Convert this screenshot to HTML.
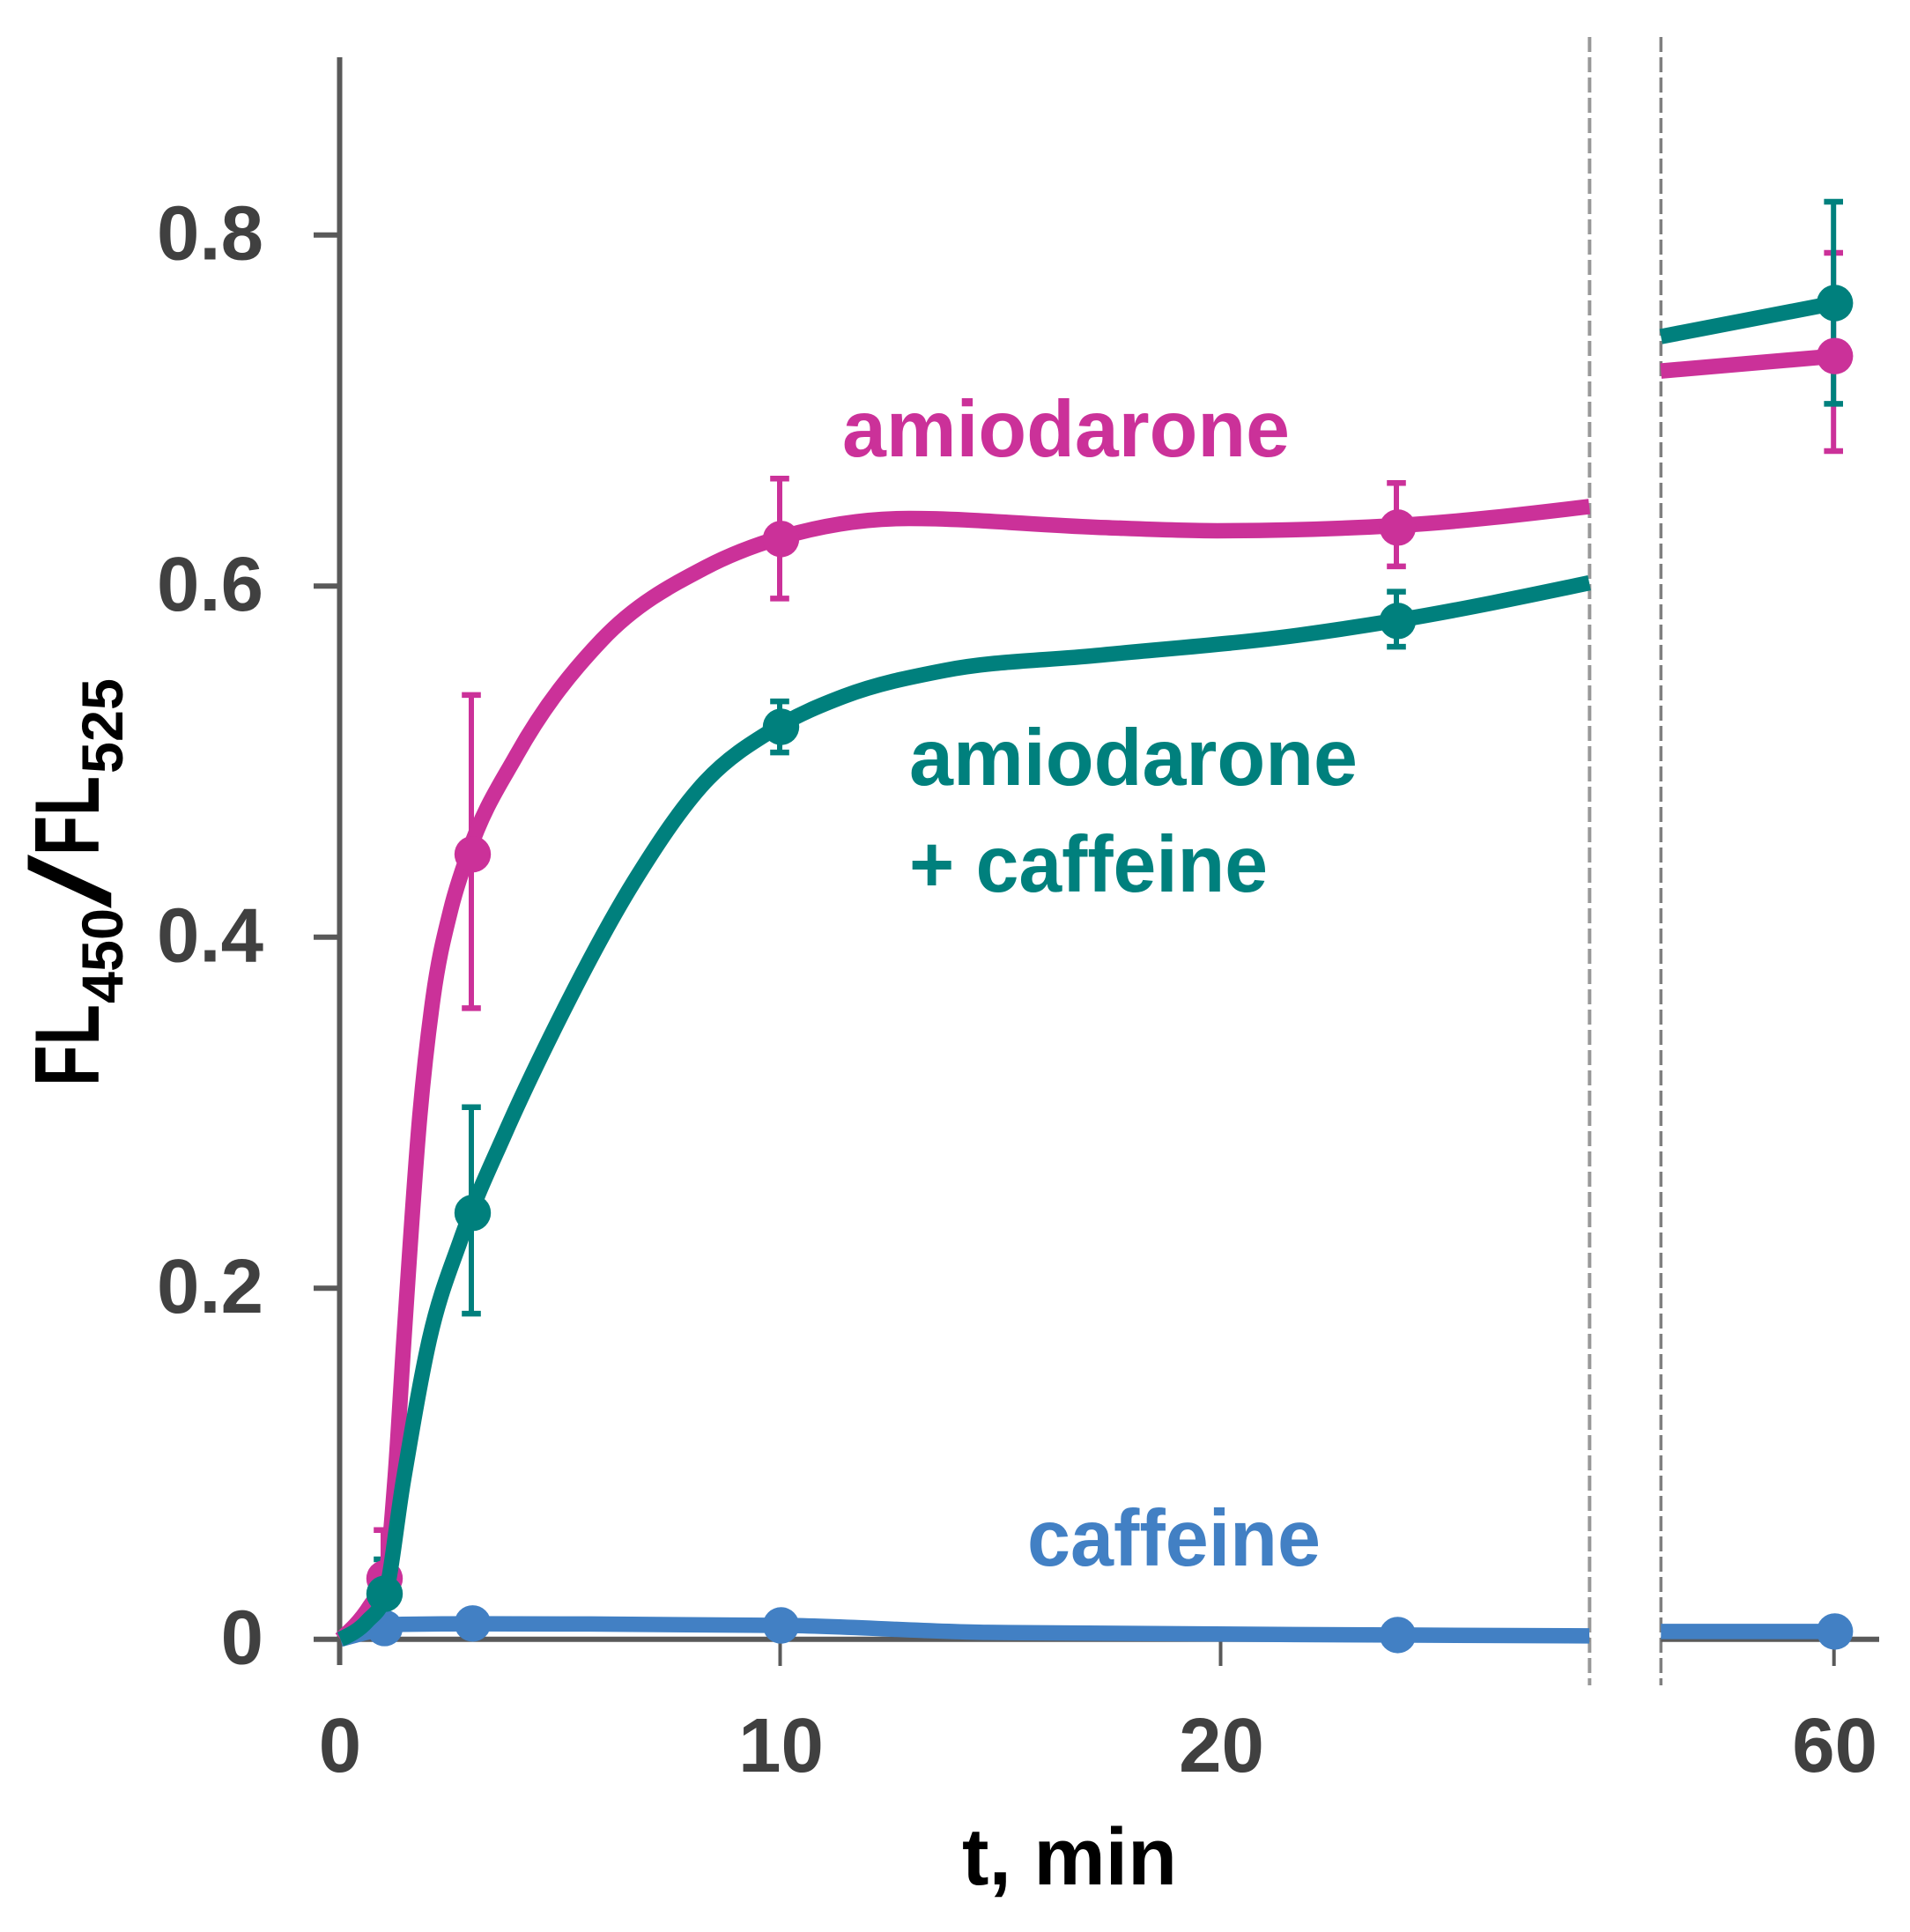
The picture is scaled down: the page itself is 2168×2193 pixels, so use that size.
<!DOCTYPE html>
<html lang="en">
<head>
<meta charset="utf-8">
<title>FL450/FL525 over time</title>
<style>
html,body{margin:0;padding:0;background:#fff;}
svg{display:block;}
text{font-family:"Liberation Sans",sans-serif;font-weight:bold;}
</style>
</head>
<body>
<svg id="chart" xmlns="http://www.w3.org/2000/svg" width="2168" height="2193" viewBox="0 0 2168 2193">
  <rect x="0" y="0" width="2168" height="2193" fill="#ffffff"/>
  <g id="axes"></g>
  <g id="series"></g>
  <g id="tick-labels"></g>

  <text x="956" y="518" font-size="91" fill="#cb3199" textLength="508" lengthAdjust="spacingAndGlyphs">amiodarone</text>
  <text x="1032" y="891" font-size="91" fill="#00807d" textLength="509" lengthAdjust="spacingAndGlyphs">amiodarone</text>
  <text x="1032" y="1012" font-size="91" fill="#00807d" textLength="407" lengthAdjust="spacingAndGlyphs">+ caffeine</text>
  <text x="1166" y="1777" font-size="91" fill="#4280c4" textLength="333" lengthAdjust="spacingAndGlyphs">caffeine</text>

  <text x="1092" y="2139" font-size="92" fill="#000000" textLength="244" lengthAdjust="spacingAndGlyphs">t, min</text>

  <g fill="#000000">
    <text transform="translate(112,1233) rotate(-90)" font-size="104" textLength="93" lengthAdjust="spacingAndGlyphs">FL</text>
    <text transform="translate(139,1139) rotate(-90)" font-size="66" textLength="108" lengthAdjust="spacingAndGlyphs">450</text>
    <text transform="translate(125,1031) rotate(-90)" font-size="129" style="font-weight:normal" textLength="61" lengthAdjust="spacingAndGlyphs">/</text>
    <text transform="translate(112,971) rotate(-90)" font-size="104" textLength="90" lengthAdjust="spacingAndGlyphs">FL</text>
    <text transform="translate(139,878) rotate(-90)" font-size="66" textLength="108" lengthAdjust="spacingAndGlyphs">525</text>
  </g>
</svg>

<script>
// ---- chart data ----
const yTicks = [0, 0.2, 0.4, 0.6, 0.8];
const yTickLabels = ["0", "0.2", "0.4", "0.6", "0.8"];
const xTicks = [0, 10, 20, 60];
const xTickLabels = ["0", "10", "20", "60"];
const breakStart = 28.35;
const breakEnd = 50;

const markerTimes = [1, 3, 10, 24, 60];

const amiodaroneValues = [0.0346, 0.4472, 0.6268, 0.6333, 0.7310];
const amiodaroneUpper  = [0.0622, 0.5379, 0.6612, 0.6587, 0.7898];
const amiodaroneLower  = [0.0070, 0.3595, 0.5929, 0.6112, 0.6769];

const comboValues = [0.0259, 0.2429, 0.5198, 0.5801, 0.7612];
const comboUpper  = [0.0455, 0.3031, 0.5343, 0.5968, 0.8189];
const comboLower  = [0.0060, 0.1855, 0.5052, 0.5654, 0.7038];

const caffeineValues = [0.0064, 0.0090, 0.0079, 0.0024, 0.0044];

const amiodaroneCurveT = [0, 0.67, 1.01, 1.24, 1.44, 1.80, 2.10, 2.50, 2.89, 4.0, 5.93, 8.27, 10.0, 12.91, 17.15, 19.9, 24.0, 28.35];
const amiodaroneCurveV = [0, 0.019, 0.0345, 0.0922, 0.171, 0.298, 0.3652, 0.4154, 0.4470, 0.5038, 0.5692, 0.6104, 0.6277, 0.6385, 0.6335, 0.6315, 0.6345, 0.6453];
const amiodaroneTailT = [50, 60];
const amiodaroneTailV = [0.7225, 0.7310];

const comboCurveT = [0, 0.61, 1.0, 1.43, 2.02, 2.73, 3.73, 4.93, 6.67, 8.27, 9.87, 11.41, 13.71, 17.15, 21.75, 24.0, 28.35];
const comboCurveV = [0, 0.0104, 0.024, 0.0907, 0.171, 0.2277, 0.2879, 0.3515, 0.4319, 0.4882, 0.5189, 0.5370, 0.5519, 0.5604, 0.5720, 0.5805, 0.6018];
const comboTailT = [50, 60];
const comboTailV = [0.7421, 0.7612];

const caffeineCurveT = [0, 0.6, 1.4, 3, 10, 14.7, 24, 28.35];
const caffeineCurveV = [0, 0.004, 0.0085, 0.0088, 0.0079, 0.0039, 0.0024, 0.0019];
const caffeineTailT = [50, 60];
const caffeineTailV = [0.0044, 0.0044];

// ---- axis functions ----
const SVG_NS = "http://www.w3.org/2000/svg";
const plot = {x0: 386.5, pxPerMin: 50, y0: 1860.7, pxPerUnit: 1992.5, breakLeft: 1804.3, breakRight: 1885.3, xAt60: 2082.7};

function xScale(t) {
  if (t <= breakStart) return plot.x0 + plot.pxPerMin * t;
  return plot.breakRight + (t - breakEnd) * (plot.xAt60 - plot.breakRight) / (60 - breakEnd);
}
function yScale(v) {
  return plot.y0 - plot.pxPerUnit * v;
}
// monotone cubic through the read-off knots (no overshoot at the sharp knee)
function smoothPath(ts, vs) {
  const xs = ts.map(xScale), ys = vs.map(yScale), n = xs.length;
  const h = [], s = [], m = new Array(n).fill(0);
  for (let i = 0; i < n - 1; i++) {
    h.push(xs[i + 1] - xs[i]);
    s.push((ys[i + 1] - ys[i]) / h[i]);
  }
  for (let i = 1; i < n - 1; i++) {
    const p = (s[i - 1] * h[i] + s[i] * h[i - 1]) / (h[i - 1] + h[i]);
    const sgn = (Math.sign(s[i - 1]) + Math.sign(s[i])) / 2;
    m[i] = 2 * sgn * Math.min(Math.abs(s[i - 1]), Math.abs(s[i]), 0.5 * Math.abs(p));
  }
  if (n > 2) {
    m[0] = (3 * s[0] - m[1]) / 2;
    m[n - 1] = (3 * s[n - 2] - m[n - 2]) / 2;
  } else {
    m[0] = m[1] = s[0];
  }
  let d = "M" + xs[0].toFixed(2) + " " + ys[0].toFixed(2);
  for (let i = 0; i < n - 1; i++) {
    const dx = h[i] / 3;
    d += "C" + (xs[i] + dx).toFixed(2) + " " + (ys[i] + dx * m[i]).toFixed(2) + " " + (xs[i + 1] - dx).toFixed(2) + " " + (ys[i + 1] - dx * m[i + 1]).toFixed(2) + " " + xs[i + 1].toFixed(2) + " " + ys[i + 1].toFixed(2);
  }
  return d;
}
function lineEl(parent, x1, y1, x2, y2, color, width) {
  const l = document.createElementNS(SVG_NS, "line");
  l.setAttribute("x1", x1);
  l.setAttribute("y1", y1);
  l.setAttribute("x2", x2);
  l.setAttribute("y2", y2);
  l.setAttribute("stroke", color);
  l.setAttribute("stroke-width", width);
  parent.appendChild(l);
  return l;
}

// ---- axes ----
const axes = document.getElementById("axes");
const AXIS_COLOR = "#595959";
let el;

el = lineEl(axes, 1804.3, 42, 1804.3, 1913, "#999999", 4);
el.setAttribute("stroke-dasharray", "17 6");



el = lineEl(axes, 1885.3, 42, 1885.3, 1913, "#808080", 3.5);
el.setAttribute("stroke-dasharray", "17 6");



el = lineEl(axes, 385.5, 65, 385.5, 1890, AXIS_COLOR, 6);



el = lineEl(axes, 385.5, plot.y0, plot.breakLeft, plot.y0, AXIS_COLOR, 6);



el = lineEl(axes, plot.breakRight, plot.y0, 2133, plot.y0, AXIS_COLOR, 6);



yTicks.forEach(function (v) {
  const t = lineEl(axes, 356, yScale(v), 385.5, yScale(v), AXIS_COLOR, 6);
  
  
});
xTicks.forEach(function (v) {
  if (v === 0) return;
  const x = xScale(v) - 1;
  const t = lineEl(axes, x, plot.y0, x, 1891, AXIS_COLOR, 4);
  
  
});

// ---- tick labels ----
const labelsGroup = document.getElementById("tick-labels");
yTicks.forEach(function (v, i) {
  const t = document.createElementNS(SVG_NS, "text");
  t.setAttribute("x", 299);
  t.setAttribute("y", yScale(v) + 28);
  t.setAttribute("text-anchor", "end");
  t.setAttribute("font-size", 87);
  t.setAttribute("fill", "#404040");
  
  
  t.textContent = yTickLabels[i];
  labelsGroup.appendChild(t);
});
xTicks.forEach(function (v, i) {
  const t = document.createElementNS(SVG_NS, "text");
  t.setAttribute("x", xScale(v) - (v === 0 ? 0.5 : 0));
  t.setAttribute("y", 2011);
  t.setAttribute("text-anchor", "middle");
  t.setAttribute("font-size", 87);
  t.setAttribute("fill", "#404040");
  
  
  t.textContent = xTickLabels[i];
  labelsGroup.appendChild(t);
});

// ---- series ----
const seriesGroup = document.getElementById("series");
const CAP_HALF = 10.8;

function drawErrorBars(values, upper, lower, color, seriesName) {
  markerTimes.forEach(function (t, i) {
    const x = xScale(t) - 1.5;
    const stem = lineEl(seriesGroup, x, yScale(upper[i]), x, yScale(lower[i]), color, 6);
    
    
    const capTop = lineEl(seriesGroup, x - CAP_HALF, yScale(upper[i]), x + CAP_HALF, yScale(upper[i]), color, 6.5);
    
    
    const capBottom = lineEl(seriesGroup, x - CAP_HALF, yScale(lower[i]), x + CAP_HALF, yScale(lower[i]), color, 6.5);
    
    
  });
}
function drawCurve(ts, vs, color, width, name) {
  const p = document.createElementNS(SVG_NS, "path");
  p.setAttribute("d", smoothPath(ts, vs));
  p.setAttribute("fill", "none");
  p.setAttribute("stroke", color);
  p.setAttribute("stroke-width", width);
  p.setAttribute("stroke-linecap", "butt");
  p.setAttribute("stroke-linejoin", "round");
  
  
  seriesGroup.appendChild(p);
}
function drawMarkers(values, color, seriesName) {
  markerTimes.forEach(function (t, i) {
    const c = document.createElementNS(SVG_NS, "circle");
    c.setAttribute("cx", xScale(t));
    c.setAttribute("cy", yScale(values[i]));
    c.setAttribute("r", 20.7);
    c.setAttribute("fill", color);
    
    
    seriesGroup.appendChild(c);
  });
}

const MAGENTA = "#cb3199", TEAL = "#00807d", BLUE = "#4280c4";
const LINE_WIDTH = 17.5;

drawErrorBars(amiodaroneValues, amiodaroneUpper, amiodaroneLower, MAGENTA, "amiodarone");
drawErrorBars(comboValues, comboUpper, comboLower, TEAL, "amiodarone-caffeine");

drawCurve(caffeineCurveT, caffeineCurveV, BLUE, LINE_WIDTH, "caffeine-curve");
drawCurve(caffeineTailT, caffeineTailV, BLUE, LINE_WIDTH, "caffeine-curve-after-break");
drawMarkers(caffeineValues, BLUE, "caffeine");

drawCurve(amiodaroneCurveT, amiodaroneCurveV, MAGENTA, LINE_WIDTH, "amiodarone-curve");
drawCurve(amiodaroneTailT, amiodaroneTailV, MAGENTA, LINE_WIDTH, "amiodarone-curve-after-break");
drawMarkers(amiodaroneValues, MAGENTA, "amiodarone");

drawCurve(comboCurveT, comboCurveV, TEAL, LINE_WIDTH, "amiodarone-caffeine-curve");
drawCurve(comboTailT, comboTailV, TEAL, LINE_WIDTH, "amiodarone-caffeine-curve-after-break");
drawMarkers(comboValues, TEAL, "amiodarone-caffeine");
</script>
</body>
</html>
